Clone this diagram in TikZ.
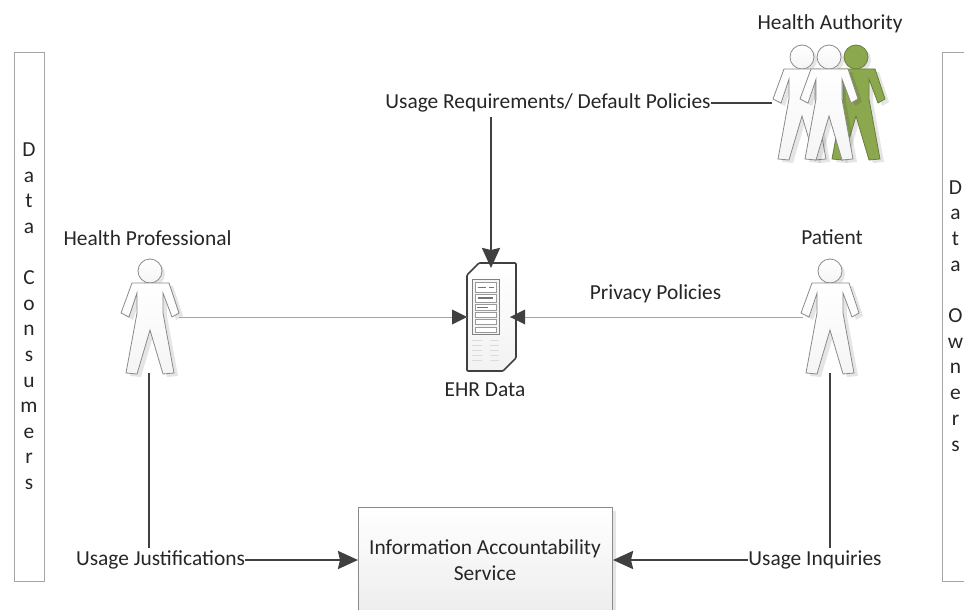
\documentclass[tikz,border=0pt]{standalone}
\usepackage{fontspec}
\setmainfont{Carlito}
\usetikzlibrary{arrows.meta}
\definecolor{lineD}{HTML}{404040}
\definecolor{lineL}{HTML}{A6A6A6}
\definecolor{figE}{HTML}{8A8A8A}
\definecolor{grn}{HTML}{8CA84F}
\newcommand{\figoutline}{(-18,12) -- (19,12) -- (29,42) -- (22,46) -- (13,22) -- (13,42) -- (24,102) -- (13,103) -- (0,59) -- (-13,103) -- (-24,102) -- (-13,42) -- (-13,22) -- (-21,46) -- (-29,42) -- cycle}
\tikzset{
  lbl/.style={font=\fontsize{21.4}{26}\selectfont, text=black!85, inner sep=0pt},
  letterlbl/.style={lbl, anchor=base},
  sidebox/.style={draw=lineL, line width=1.2pt, fill=white},
  heavy/.style={draw=lineD, line width=2.4pt},
  thin line/.style={draw=lineL, line width=1pt},
  tipD/.style={-{Stealth[length=20pt,width=18pt,inset=2pt]}},
  whitefig/.style={top color=white, bottom color=black!4, draw=figE, line width=.8pt},
  greenfig/.style={fill=grn, draw=grn!75!black, line width=.8pt},
  pics/person/.style={code={
    \path[fill=black, opacity=.1] (3,3) circle (12);
    \path[fill=black, opacity=.1, shift={(4,3)}] \figoutline;
    \path[#1] (0,0) circle (12);
    \path[#1] \figoutline;
  }},
  pics/person/.default=whitefig
}
\begin{document}
\begin{tikzpicture}[x=1pt,y=-1pt]
\useasboundingbox (0,0) rectangle (964,610);
\fill[white] (0,0) rectangle (964,610);
\path[clip] (0,0) rectangle (964,610);
% side boxes
\node[sidebox, minimum width=30pt, minimum height=529pt, anchor=north west, inner sep=0pt] (cons) at (14,52) {};
\node[sidebox, minimum width=40pt, minimum height=529pt, anchor=north west, inner sep=0pt] (own) at (942,52) {};
\foreach \t [count=\i from 0] in {D,a,t,a,{},C,o,n,s,u,m,e,r,s}{
  \node[letterlbl] at (29,156.7+25.6*\i) {\t};}
\foreach \t [count=\i from 0] in {D,a,t,a,{},O,w,n,e,r,s}{
  \node[letterlbl] at (955.5,194+25.7*\i) {\t};}
% figures
\pic at (150,271) {person};
\coordinate (hp) at (179,317);
\pic at (830,271) {person};
\coordinate (pat) at (803,317);
\pic at (802,57) {person};
\pic at (856,57) {person=greenfig};
\pic at (829,57) {person};
% server
\path[top color=white, bottom color=black!5, draw=lineD, line width=1.6pt, rounded corners=1pt] (467,275) -- (479,263) -- (516,263) -- (516,358) -- (503,371) -- (467,371) -- cycle;
\path[draw=black!50, fill=black!4, line width=.8pt] (472,279) rectangle (499,334);
\foreach \y/\h in {282/10,294/8,304/6,312/5,319/5,327/5}{
  \path[draw=black!40, fill=white, line width=.5pt] (475,\y) rectangle (496,\y+\h);}
\draw[black!55, line width=.8pt] (478,287) -- (486,287) (489,287) -- (494,287);
\draw[black!55, line width=1.2pt] (478,298) -- (493,298);
\draw[black!55, line width=.8pt] (477,307) -- (488,307);
\foreach \y in {340,345,350,355,360}{
  \draw[black!14, line width=.8pt] (472,\y) -- (482,\y) (490,\y) -- (499,\y);}
\node[lbl] (ehr) at (485,390) {EHR Data};
\coordinate (srvN) at (491,268);
\coordinate (srvW) at (467,317);
\coordinate (srvE) at (510,317);
% labels
\node[lbl] at (830,24) {Health Authority};
\node[lbl] at (147.5,238) {Health Professional};
\node[lbl] at (832,237) {Patient};
\node[lbl] (priv) at (655.5,294) {Privacy Policies};
\node[lbl] (req) at (548,103) {Usage Requirements/ Default Policies};
\node[lbl] (just) at (160.5,560) {Usage Justifications};
\node[lbl] (inq) at (815,560) {Usage Inquiries};
% service box
\fill[black!10] (613,511) rectangle (616,610);
\node[draw=figE, line width=1pt, top color=white, bottom color=black!7, minimum width=254pt, minimum height=106pt, anchor=north west, inner sep=0pt] (ias) at (358,507) {};
\node[lbl, align=center] at (485,560) {Information Accountability\\Service};
% connectors
\coordinate (haL) at (772,103);
\draw[heavy] (req.east) -- (req.east -| haL);
\draw[heavy, tipD] ([yshift=-5pt]req.south -| srvN) -- (srvN);
\draw[thin line] (hp) -- (srvW);
\draw[thin line] (pat) -- (srvE);
\fill[lineD] (467,317) -- (452,309.5) -- (452,324.5) -- cycle;
\fill[lineD] (510,317) -- (525,309.5) -- (525,324.5) -- cycle;
\coordinate (hpS) at (149,373);
\coordinate (patS) at (830,373);
\draw[heavy] (hpS) -- ([yshift=3pt]just.north -| hpS);
\draw[heavy] (patS) -- ([yshift=3pt]inq.north -| patS);
\draw[heavy, tipD] (just.east) -- (ias.west |- just.east);
\draw[heavy, tipD] (inq.west) -- (ias.east |- inq.west);
\end{tikzpicture}
\end{document}
